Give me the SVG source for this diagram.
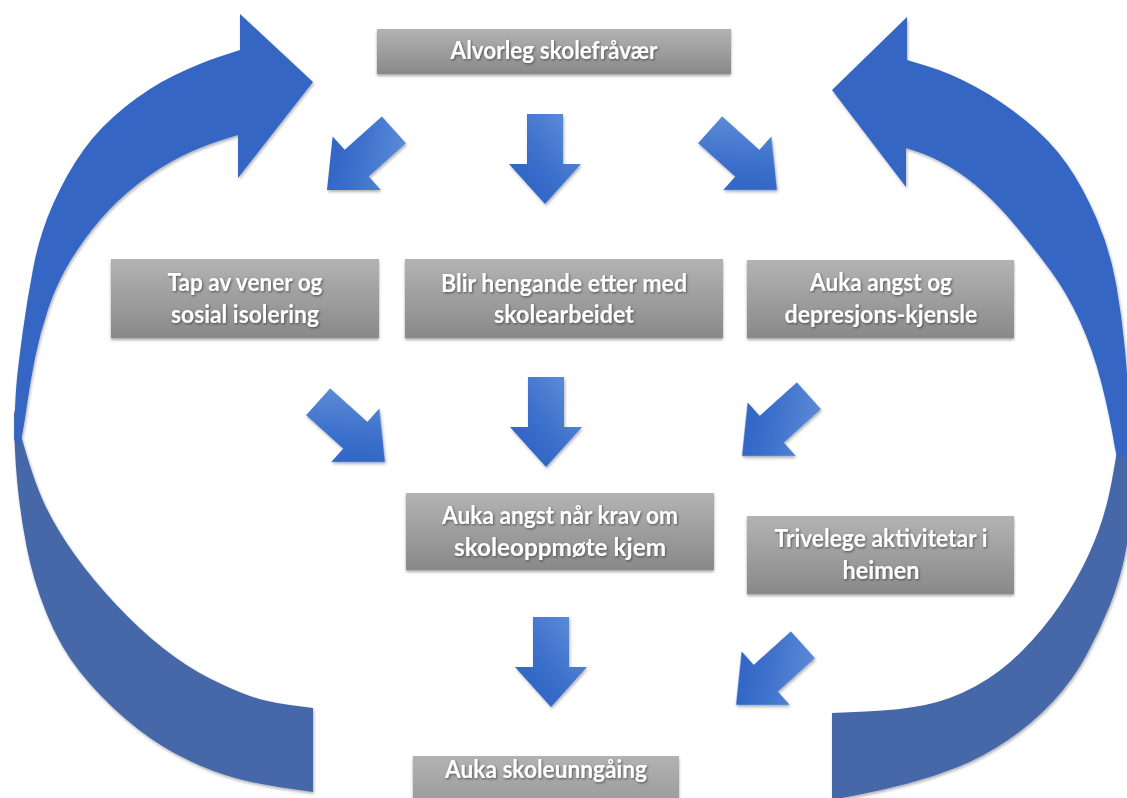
<svg xmlns="http://www.w3.org/2000/svg" xmlns:xlink="http://www.w3.org/1999/xlink" width="1127" height="798" viewBox="0 0 1127 798">
  <defs>
    <style>
      .box { fill: url(#boxGrad); filter: url(#boxShadow); }
      .lbl { font-family: "Lato", "Liberation Sans", "DejaVu Sans", sans-serif; font-weight: 700; font-size: 24.5px; fill: #ffffff; text-anchor: middle; filter: url(#textShadow); }
      .loopUp { fill: #3466c4; }
      .loopLow { fill: #4667a8; }
    </style>
    <linearGradient id="boxGrad" x1="0" y1="0" x2="0" y2="1">
      <stop offset="0" stop-color="#b3b3b3"/>
      <stop offset="1" stop-color="#898989"/>
    </linearGradient>
    <linearGradient id="arrowGrad" x1="0" y1="0" x2="1" y2="1">
      <stop offset="0" stop-color="#6592da"/>
      <stop offset="0.55" stop-color="#3b6fcb"/>
      <stop offset="1" stop-color="#2a5dbf"/>
    </linearGradient>
    <filter id="boxShadow" x="-10%" y="-20%" width="120%" height="150%">
      <feDropShadow dx="0" dy="2" stdDeviation="1.5" flood-color="#000" flood-opacity="0.35"/>
    </filter>
    <filter id="arrowShadow" x="-20%" y="-20%" width="140%" height="140%">
      <feDropShadow dx="1" dy="2" stdDeviation="1.8" flood-color="#000" flood-opacity="0.3"/>
    </filter>
    <filter id="textShadow" x="-10%" y="-30%" width="120%" height="160%">
      <feDropShadow dx="1" dy="1.2" stdDeviation="1" flood-color="#333" flood-opacity="0.7"/>
    </filter>
    <path id="blockArrow" d="M0,0 L-40,-36 L-40,-18 L-90,-18 L-90,18 L-40,18 L-40,36 Z" fill="url(#arrowGrad)"/>
  </defs>

  <rect x="0" y="0" width="1127" height="798" fill="#ffffff"/>

  <g id="connectors">
    <g id="loop-left" filter="url(#arrowShadow)">
      <path class="loopLow" d="M313,708 L313,792 L281.5,787.5 Q250,783 225,775 Q200,767 175,753.5 Q150,740 125,718.5 Q100,697 80,672 Q60,647 46.5,613.5 Q33,580 26.5,546.5 Q20,513 17,480 Q14,447 14,410 L19,428 Q33,480 45,505 Q57,530 75,555 Q93,580 116.5,605 Q140,630 163.5,648.5 Q187,667 210,678.5 Q233,690 250,696 Q267,702 290,705 Z"/>
      <path class="loopUp" d="M14,440 Q15,400 16.5,383.5 Q18,367 22.5,333.5 Q27,300 33.5,266.5 Q40,233 53.5,203 Q67,173 83.5,150 Q100,127 125,107 Q150,87 175,75 Q200,63 220,56.5 L240,50 L240,14 L313,82 L238,178 L238,135 L219,141 Q200,147 180,157 Q160,167 138.5,183.5 Q117,200 100,220 Q83,240 70,261.5 Q57,283 48.5,308 Q40,333 35,358 Q30,383 26.5,408 Q23,433 20,445 Z"/>
    </g>
    <g id="loop-right" filter="url(#arrowShadow)">
      <path class="loopLow" d="M832,713 L832,800 L857.5,795 Q883,790 908,783.5 Q933,777 958,767 Q983,757 1008,740 Q1033,723 1053,701.5 Q1073,680 1086.5,655 Q1100,630 1110,605 Q1120,580 1125,555 Q1130,530 1132,500 Q1134,470 1135,420 L1123,410 L1120,430 Q1113,480 1106.5,505 Q1100,530 1088.5,555 Q1077,580 1060,605 Q1043,630 1021.5,651.5 Q1000,673 975,686.5 Q950,700 925,705 Q900,710 866,711.5 Z"/>
      <path class="loopUp" d="M1133,450 L1130.5,416.5 Q1128,383 1125,350 Q1122,317 1116,283.5 Q1110,250 1096.5,218.5 Q1083,187 1066.5,163.5 Q1050,140 1025,120 Q1000,100 975,86.5 Q950,73 928.5,66.5 L907,60 L907,17 L832,90 L906,187 L906,148 L919.5,152.5 Q933,157 950,167 Q967,177 983.5,192 Q1000,207 1016.5,227 Q1033,247 1050,270 Q1067,293 1080,321.5 Q1093,350 1101.5,383.5 Q1110,417 1115,448.5 L1118,460 Z"/>
    </g>
    <g id="small-arrows" filter="url(#arrowShadow)">
      <use xlink:href="#blockArrow" href="#blockArrow" transform="translate(327,190) rotate(138)"/>
      <use xlink:href="#blockArrow" href="#blockArrow" transform="translate(545,204) rotate(90)"/>
      <use xlink:href="#blockArrow" href="#blockArrow" transform="translate(777,190) rotate(42)"/>
      <use xlink:href="#blockArrow" href="#blockArrow" transform="translate(385,462) rotate(42)"/>
      <use xlink:href="#blockArrow" href="#blockArrow" transform="translate(546,467) rotate(90)"/>
      <use xlink:href="#blockArrow" href="#blockArrow" transform="translate(742,456) rotate(138)"/>
      <use xlink:href="#blockArrow" href="#blockArrow" transform="translate(551,707) rotate(90)"/>
      <use xlink:href="#blockArrow" href="#blockArrow" transform="translate(736,705) rotate(138)"/>
    </g>
  </g>

  <g id="node-alvorleg">
    <rect class="box" x="377" y="29" width="354" height="45"/>
    <text class="lbl" x="554" y="59" textLength="207" lengthAdjust="spacingAndGlyphs">Alvorleg skolefråvær</text>
  </g>
  <g id="node-tap">
    <rect class="box" x="111" y="259" width="268" height="79"/>
    <text class="lbl" x="245" y="290.5" textLength="155" lengthAdjust="spacingAndGlyphs">Tap av vener og</text>
    <text class="lbl" x="245" y="322.5" textLength="148" lengthAdjust="spacingAndGlyphs">sosial isolering</text>
  </g>
  <g id="node-blir">
    <rect class="box" x="405" y="259" width="318" height="79"/>
    <text class="lbl" x="564" y="291.5" textLength="246" lengthAdjust="spacingAndGlyphs">Blir hengande etter med</text>
    <text class="lbl" x="564" y="323" textLength="140" lengthAdjust="spacingAndGlyphs">skolearbeidet</text>
  </g>
  <g id="node-angst-depresjon">
    <rect class="box" x="747" y="260" width="267" height="78"/>
    <text class="lbl" x="881" y="290.5" textLength="142" lengthAdjust="spacingAndGlyphs">Auka angst og</text>
    <text class="lbl" x="881" y="322.5" textLength="193" lengthAdjust="spacingAndGlyphs">depresjons-kjensle</text>
  </g>
  <g id="node-angst-krav">
    <rect class="box" x="406" y="493" width="308" height="77"/>
    <text class="lbl" x="560" y="523.5" textLength="236" lengthAdjust="spacingAndGlyphs">Auka angst når krav om</text>
    <text class="lbl" x="560" y="555.5" textLength="212" lengthAdjust="spacingAndGlyphs">skoleoppmøte kjem</text>
  </g>
  <g id="node-trivelege">
    <rect class="box" x="747" y="516" width="267" height="78"/>
    <text class="lbl" x="881" y="547" textLength="213" lengthAdjust="spacingAndGlyphs">Trivelege aktivitetar i</text>
    <text class="lbl" x="881" y="579" textLength="77" lengthAdjust="spacingAndGlyphs">heimen</text>
  </g>
  <g id="node-skoleunngaing">
    <rect class="box" x="413" y="756" width="266" height="80"/>
    <text class="lbl" x="546" y="778" textLength="202" lengthAdjust="spacingAndGlyphs">Auka skoleunngåing</text>
  </g>
</svg>
